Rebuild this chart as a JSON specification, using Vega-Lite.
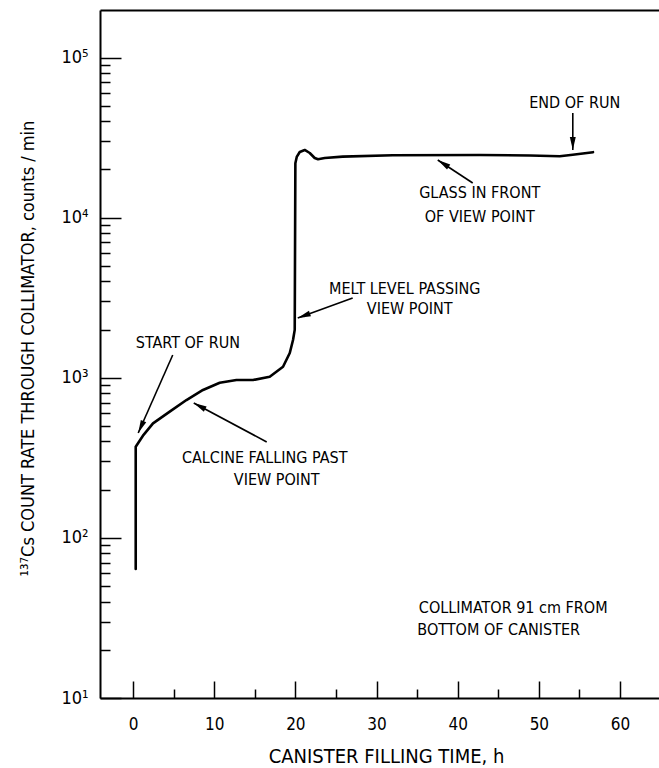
{
  "$schema": "https://vega.github.io/schema/vega-lite/v6.json",
  "width": 559,
  "height": 688,
  "autosize": {"type": "none"},
  "padding": {"left": 100, "top": 10, "right": 0, "bottom": 70},
  "background": "white",
  "config": {
    "view": {"stroke": null},
    "font": "Liberation Sans Narrow, DejaVu Sans Condensed, Roboto Condensed, Liberation Sans, sans-serif",
    "axis": {
      "grid": false,
      "domainColor": "black",
      "domainWidth": 2,
      "tickColor": "black",
      "tickWidth": 1.5,
      "labelColor": "black",
      "titleColor": "black",
      "labelFont": "Liberation Sans Narrow, DejaVu Sans Condensed, Roboto Condensed, Liberation Sans, sans-serif",
      "titleFont": "Liberation Sans Narrow, DejaVu Sans Condensed, Roboto Condensed, Liberation Sans, sans-serif",
      "labelFontSize": 17,
      "titleFontSize": 19,
      "titleFontWeight": "normal"
    },
    "text": {"font": "Liberation Sans Narrow, DejaVu Sans Condensed, Roboto Condensed, Liberation Sans, sans-serif"}
  },
  "datasets": {
    "curve": [
      {"h": 0.33, "rate": 64},
      {"h": 0.33, "rate": 371},
      {"h": 1.3, "rate": 440},
      {"h": 2.46, "rate": 519},
      {"h": 4.52, "rate": 614},
      {"h": 6.58, "rate": 726},
      {"h": 8.62, "rate": 839},
      {"h": 10.68, "rate": 931},
      {"h": 12.74, "rate": 968},
      {"h": 14.78, "rate": 968},
      {"h": 16.84, "rate": 1015},
      {"h": 18.48, "rate": 1172},
      {"h": 19.31, "rate": 1428},
      {"h": 19.71, "rate": 1722},
      {"h": 19.92, "rate": 1990},
      {"h": 20.0, "rate": 21850},
      {"h": 20.17, "rate": 23930},
      {"h": 20.54, "rate": 25700},
      {"h": 21.15, "rate": 26450},
      {"h": 21.77, "rate": 25330},
      {"h": 22.38, "rate": 23580},
      {"h": 22.79, "rate": 23130},
      {"h": 23.62, "rate": 23580},
      {"h": 25.83, "rate": 24030},
      {"h": 32.0, "rate": 24500},
      {"h": 42.7, "rate": 24600},
      {"h": 48.9, "rate": 24450},
      {"h": 52.57, "rate": 24150},
      {"h": 54.17, "rate": 24700},
      {"h": 56.67, "rate": 25630}
    ],
    "arrows": [
      {"x1": 4.89, "y1": 1387, "x2": 0.64, "y2": 452, "angle": 204},
      {"x1": 16.47, "y1": 397, "x2": 7.48, "y2": 696, "angle": 298},
      {"x1": 27.06, "y1": 3148, "x2": 20.29, "y2": 2362, "angle": 250},
      {"x1": 41.85, "y1": 16450, "x2": 37.54, "y2": 22900, "angle": 303},
      {"x1": 54.18, "y1": 45040, "x2": 54.18, "y2": 26450, "angle": 180}
    ],
    "notes": [
      {"x": 6.76, "y": 1649, "text": "START OF RUN"},
      {"x": 16.22, "y": 315, "text": "CALCINE FALLING PAST"},
      {"x": 17.7, "y": 230, "text": "VIEW POINT"},
      {"x": 33.47, "y": 3584, "text": "MELT LEVEL PASSING"},
      {"x": 34.09, "y": 2669, "text": "VIEW POINT"},
      {"x": 42.71, "y": 14260, "text": "GLASS IN FRONT"},
      {"x": 42.71, "y": 10090, "text": "OF VIEW POINT"},
      {"x": 54.42, "y": 52000, "text": "END OF RUN"},
      {"x": 46.84, "y": 36.5, "text": "COLLIMATOR 91 cm FROM"},
      {"x": 45.05, "y": 26.6, "text": "BOTTOM OF CANISTER"}
    ]
  },
  "resolve": {"axis": {"x": "independent", "y": "independent"}},
  "layer": [
    {
      "data": {"name": "curve"},
      "mark": {"type": "line", "color": "black", "strokeWidth": 2.6, "strokeJoin": "round", "strokeCap": "round"},
      "encoding": {
        "x": {
          "field": "h", "type": "quantitative",
          "scale": {"domain": [-4.07, 64.8], "nice": false, "zero": false},
          "axis": {
            "orient": "bottom",
            "values": [0, 10, 20, 30, 40, 50, 60],
            "tickSize": -17,
            "labelPadding": 35,
            "title": "CANISTER FILLING TIME, h",
            "titleX": 286,
            "titleY": 64,
            "titleBaseline": "alphabetic",
            "titleAlign": "center",
            "titleFontSize": 20
          }
        },
        "y": {
          "field": "rate", "type": "quantitative",
          "scale": {"type": "log", "domain": [10, 198000], "nice": false, "zero": false},
          "axis": {
            "orient": "left",
            "values": [10, 100, 1000, 10000, 100000],
            "tickSize": -21,
            "labelPadding": 33,
            "labelFontSize": 18,
            "labelExpr": "datum.value == 10 ? '10¹' : datum.value == 100 ? '10²' : datum.value == 1000 ? '10³' : datum.value == 10000 ? '10⁴' : '10⁵'",
            "title": "¹³⁷Cs COUNT RATE THROUGH COLLIMATOR, counts / min",
            "titleX": -67,
            "titleY": 338,
            "titleAngle": 270,
            "titleBaseline": "alphabetic",
            "titleAlign": "center",
            "titleFontSize": 18
          }
        }
      }
    },
    {
      "data": {"name": "arrows"},
      "mark": {"type": "rule", "color": "black", "strokeWidth": 1.6},
      "encoding": {
        "x": {
          "field": "x1", "type": "quantitative",
          "scale": {"domain": [-4.07, 64.8], "nice": false, "zero": false},
          "axis": {"orient": "bottom", "values": [5, 15, 25, 35, 45, 55], "tickSize": -9, "labels": false, "domain": false, "title": null}
        },
        "y": {
          "field": "y1", "type": "quantitative",
          "scale": {"type": "log", "domain": [10, 198000], "nice": false, "zero": false},
          "axis": {"orient": "left", "values": [20, 30, 40, 50, 60, 70, 80, 90, 200, 300, 400, 500, 600, 700, 800, 900, 2000, 3000, 4000, 5000, 6000, 7000, 8000, 9000, 20000, 30000, 40000, 50000, 60000, 70000, 80000, 90000], "tickSize": -10, "labels": false, "domain": false, "title": null}
        },
        "x2": {"field": "x2"},
        "y2": {"field": "y2"}
      }
    },
    {
      "data": {"name": "arrows"},
      "mark": {"type": "point", "shape": "M0,0L0.5,2.2L-0.5,2.2Z", "filled": true, "color": "black", "opacity": 1, "size": 140},
      "encoding": {
        "x": {
          "field": "x2", "type": "quantitative",
          "scale": {"domain": [-4.07, 64.8], "nice": false, "zero": false},
          "axis": {"orient": "top", "domain": true, "ticks": false, "labels": false, "title": null}
        },
        "y": {
          "field": "y2", "type": "quantitative",
          "scale": {"type": "log", "domain": [10, 198000], "nice": false, "zero": false},
          "axis": null
        },
        "angle": {"field": "angle", "type": "quantitative", "scale": null}
      }
    },
    {
      "data": {"name": "notes"},
      "mark": {"type": "text", "color": "black", "fontSize": 16, "align": "center", "baseline": "middle"},
      "encoding": {
        "x": {"field": "x", "type": "quantitative", "scale": {"domain": [-4.07, 64.8], "nice": false, "zero": false}, "axis": null},
        "y": {"field": "y", "type": "quantitative", "scale": {"type": "log", "domain": [10, 198000], "nice": false, "zero": false}, "axis": null},
        "text": {"field": "text"}
      }
    }
  ]
}
